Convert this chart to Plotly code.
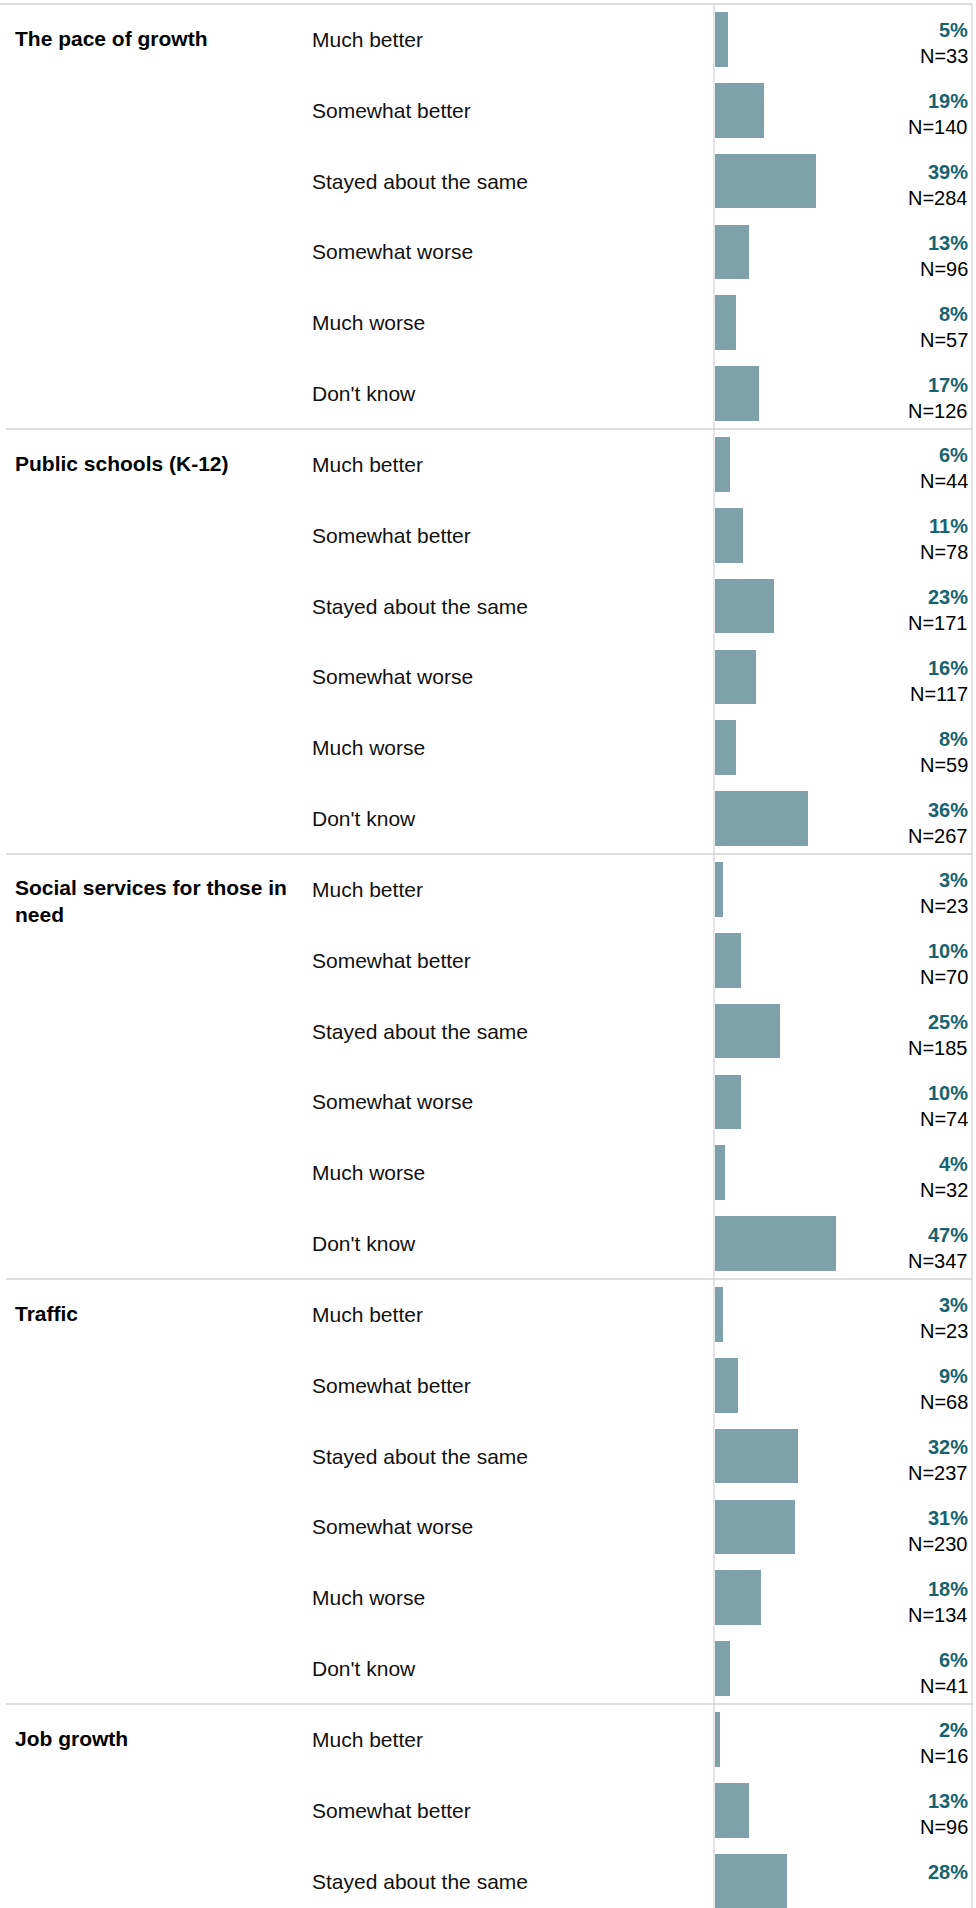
import textwrap
import plotly.graph_objects as go

# ---------------- data ----------------
groups = ["The pace of growth", "Public schools (K-12)",
          "Social services for those in need", "Traffic", "Job growth"]
responses = ["Much better", "Somewhat better", "Stayed about the same",
             "Somewhat worse", "Much worse", "Don't know"]

pct_pace = [5, 19, 39, 13, 8, 17]
n_pace = [33, 140, 284, 96, 57, 126]
pct_schools = [6, 11, 23, 16, 8, 36]
n_schools = [44, 78, 171, 117, 59, 267]
pct_social = [3, 10, 25, 10, 4, 47]
n_social = [23, 70, 185, 74, 32, 347]
pct_traffic = [3, 9, 32, 31, 18, 6]
n_traffic = [23, 68, 237, 230, 134, 41]
pct_jobs = [2, 13, 28]          # only rows visible in the view
n_jobs = [16, 96]

pct_by_group = [pct_pace, pct_schools, pct_social, pct_traffic, pct_jobs]
n_by_group = [n_pace, n_schools, n_social, n_traffic, n_jobs]

# ---------------- style ----------------
W, H = 976, 1908
FONT = "Arial, 'Liberation Sans', sans-serif"
BAR_COLOR = "#7fa1a9"
PCT_COLOR = "#17636f"
LINE_COLOR = "#d2d2d2"
TOP = 4            # px of top border line
ROW_PX = 70.83     # px per row
AXIS_X = 714.5     # px of bar baseline
RIGHT_X = 972      # px of right border
PX_PER_PCT = 2.58

# flatten rows
rows_y, rows_pct, rows_resp, rows_n = [], [], [], []
group_first_row = []
r = 0
for g, (pcts, ns) in enumerate(zip(pct_by_group, n_by_group)):
    group_first_row.append(r)
    for k, p in enumerate(pcts):
        rows_y.append(r)
        rows_pct.append(p)
        rows_resp.append(responses[k])
        rows_n.append(ns[k] if k < len(ns) else None)
        r += 1

area_h = H - TOP
y_top = -0.5
y_bottom = y_top + area_h / ROW_PX

fig = go.Figure()
fig.add_trace(go.Bar(
    x=rows_pct, y=rows_y, orientation="h", width=0.772,
    marker=dict(color=BAR_COLOR, line=dict(width=0)),
    hoverinfo="skip", showlegend=False,
))

x_range_max = (RIGHT_X - AXIS_X) / PX_PER_PCT

annotations = []
# group labels
for g, name in enumerate(groups):
    lines = textwrap.wrap(name, 28)
    nl = len(lines)
    annotations.append(dict(
        x=13 / W, xref="paper", xanchor="left",
        y=group_first_row[g], yref="y", yanchor="middle",
        yshift=-(nl - 1) * 0.62 * 21 + 1,
        text="<b>" + "<br>".join(lines) + "</b>", showarrow=False,
        align="left", font=dict(family=FONT, size=21, color="#000000"),
    ))
# response labels, percent and N labels
for y, p, resp, n in zip(rows_y, rows_pct, rows_resp, rows_n):
    annotations.append(dict(
        x=310 / W, xref="paper", xanchor="left", y=y, yref="y",
        yanchor="middle", text=resp, showarrow=False,
        font=dict(family=FONT, size=21, color="#111111"),
    ))
    annotations.append(dict(
        x=970 / W, xref="paper", xanchor="right", y=y, yref="y",
        yanchor="middle", yshift=9, text=f"<b>{p}%</b>", showarrow=False,
        font=dict(family=FONT, size=20, color=PCT_COLOR),
    ))
    if n is not None:
        annotations.append(dict(
            x=970 / W, xref="paper", xanchor="right", y=y, yref="y",
            yanchor="middle", yshift=-17, text=f"N={n}", showarrow=False,
            font=dict(family=FONT, size=20, color="#000000"),
        ))

shapes = []
ytop_paper = 1 - TOP / H
# top border
shapes.append(dict(type="line", xref="paper", yref="paper",
                   x0=0, x1=RIGHT_X / W, y0=ytop_paper, y1=ytop_paper,
                   line=dict(color=LINE_COLOR, width=1.5)))
# group separators
for g in range(1, len(groups)):
    ysep = group_first_row[g] - 0.5
    shapes.append(dict(type="line", xref="paper", yref="y",
                       x0=6 / W, x1=RIGHT_X / W, y0=ysep, y1=ysep,
                       line=dict(color=LINE_COLOR, width=1.5)))
# vertical lines: bar baseline and right border
for xv in (AXIS_X - 0.5, RIGHT_X):
    shapes.append(dict(type="line", xref="paper", yref="paper",
                       x0=xv / W, x1=xv / W, y0=0, y1=ytop_paper,
                       line=dict(color=LINE_COLOR, width=1.2)))

fig.update_layout(
    width=W, height=H,
    margin=dict(l=0, r=0, t=0, b=0, pad=0),
    paper_bgcolor="white", plot_bgcolor="white",
    xaxis=dict(domain=[AXIS_X / W, RIGHT_X / W], range=[0, x_range_max],
               visible=False, fixedrange=True),
    yaxis=dict(domain=[0, ytop_paper], range=[y_bottom, y_top],
               visible=False, fixedrange=True),
    bargap=0,
    annotations=annotations,
    shapes=shapes,
    font=dict(family=FONT),
)

fig.write_html("out.html", config={"displayModeBar": False},
               post_script="document.body.style.margin='0';document.body.style.overflow='hidden';")
